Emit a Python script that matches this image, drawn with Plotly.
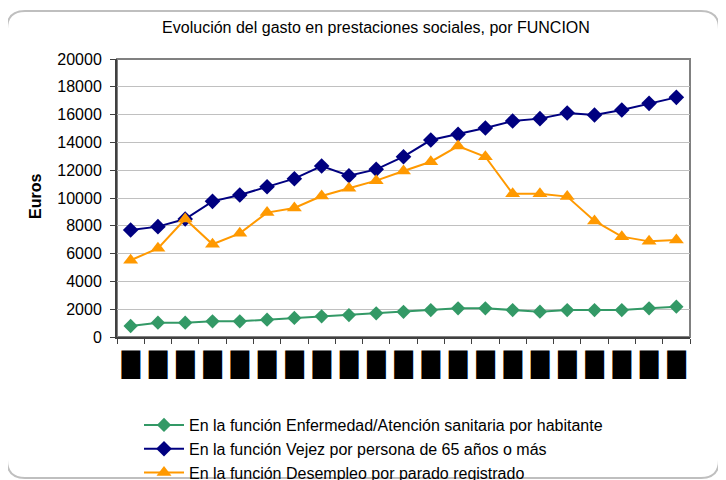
import plotly.graph_objects as go

# ---- data ----
categories = [str(y) for y in range(1980, 2001)]
tick_labels = ["█"] * len(categories)
enfermedad = [790, 1030, 1030, 1130, 1130, 1250, 1370, 1490, 1580, 1700, 1810,
              1940, 2060, 2060, 1940, 1820, 1940, 1940, 1940, 2060, 2180]
vejez = [7700, 7940, 8490, 9760, 10220, 10810, 11390, 12300, 11600, 12060, 12970,
         14170, 14580, 15040, 15540, 15710, 16110, 15970, 16330, 16810, 17240]
desempleo = [5520, 6380, 8490, 6670, 7460, 8950, 9280, 10140, 10700, 11250, 11940,
             12610, 13740, 12970, 10310, 10310, 10100, 8350, 7220, 6880, 6980]
series_names = [
    "En la función Enfermedad/Atención sanitaria por habitante",
    "En la función Vejez por persona de 65 años o más",
    "En la función Desempleo por parado registrado",
]
title_text = "Evolución del gasto en prestaciones sociales, por FUNCION"
y_title = "Euros"

# ---- layout geometry (page pixels; the page body adds an 8px offset) ----
OFF = 8
W, H = 726 - OFF, 480 - OFF
L, R, T, B = 117 - OFF, 690 - OFF, 59 - OFF, 337 - OFF


def px(x):
    return (x - OFF - L) / (R - L)


def py(y):
    return (B - (y - OFF)) / (B - T)


def cx(x):
    return (x - OFF) / W


def cy(y):
    return 1 - (y - OFF) / H


FONT = "Liberation Sans, Arial, sans-serif"

fig = go.Figure()
fig.add_trace(go.Scatter(
    x=categories, y=enfermedad, name=series_names[0], mode="lines+markers",
    line=dict(color="#339966", width=2), legendgroup="a",
    marker=dict(symbol="diamond", size=11, color="#339966")))
fig.add_trace(go.Scatter(
    x=categories, y=vejez, name=series_names[1], mode="lines+markers",
    line=dict(color="#000080", width=2), legendgroup="b",
    marker=dict(symbol="diamond", size=12, color="#000080")))
fig.add_trace(go.Scatter(
    x=categories, y=desempleo, name=series_names[2], mode="lines+markers",
    line=dict(color="#FF9900", width=2), legendgroup="c",
    marker=dict(symbol="triangle-up", size=13, color="#FF9900")))

# outer rounded frame (page pixel positions)
x0, x1, y0, y1, r = 7, 719, 11, 478, 18
path = (f"M {px(x0)},{py(y0 + r)} "
        f"Q {px(x0)},{py(y0)} {px(x0 + r)},{py(y0)} "
        f"L {px(x1 - r)},{py(y0)} "
        f"Q {px(x1)},{py(y0)} {px(x1)},{py(y0 + r)} "
        f"L {px(x1)},{py(y1 - r)} "
        f"Q {px(x1)},{py(y1)} {px(x1 - r)},{py(y1)} "
        f"L {px(x0 + r)},{py(y1)} "
        f"Q {px(x0)},{py(y1)} {px(x0)},{py(y1 - r)} Z")

fig.update_layout(
    width=W, height=H,
    margin=dict(l=L, r=W - R, t=T, b=H - B, autoexpand=False),
    paper_bgcolor="white", plot_bgcolor="white",
    font=dict(family=FONT, size=16, color="black"),
    title=dict(text=title_text, x=cx(376), xanchor="center", y=cy(27),
               yanchor="middle", font=dict(size=16, family=FONT)),
    showlegend=True,
    legend=dict(xref="container", yref="container",
                x=cx(139), xanchor="left", y=cy(408), yanchor="top",
                orientation="v", font=dict(size=16, family=FONT),
                tracegroupgap=0, itemwidth=40, bgcolor="rgba(0,0,0,0)"),
    shapes=[
        dict(type="path", path=path, xref="paper", yref="paper",
             line=dict(color="#bfbfbf", width=2), layer="below"),
        dict(type="rect", xref="paper", yref="paper", x0=0, x1=1, y0=0, y1=1,
             line=dict(color="#808080", width=2), layer="below"),
    ],
    annotations=[
        dict(text=f"<b>{y_title}</b>", xref="paper", yref="paper",
             x=px(35), y=py(197), xanchor="center", yanchor="middle",
             textangle=-90, showarrow=False, font=dict(size=16, family=FONT)),
    ],
)
fig.update_xaxes(
    type="category", tickmode="array", tickvals=categories, ticktext=tick_labels,
    tickangle=0, tickson="boundaries", ticks="outside", ticklen=5,
    tickcolor="#404040", showline=True, linecolor="#404040", linewidth=2,
    showgrid=False, automargin=False, ticklabelstandoff=5,
    tickfont=dict(family="DejaVu Sans", size=24, color="black"),
    range=[-0.5, len(categories) - 0.5], fixedrange=True)
fig.update_yaxes(
    range=[0, 20000], dtick=2000, tickformat="d", ticks="outside", ticklen=5,
    tickcolor="#404040", automargin=False, ticklabelstandoff=5,
    showline=True, linecolor="#404040", linewidth=2, showgrid=True,
    gridcolor="#c0c0c0", gridwidth=1, zeroline=False,
    tickfont=dict(family=FONT, size=16))

fig.write_html("out.html")
